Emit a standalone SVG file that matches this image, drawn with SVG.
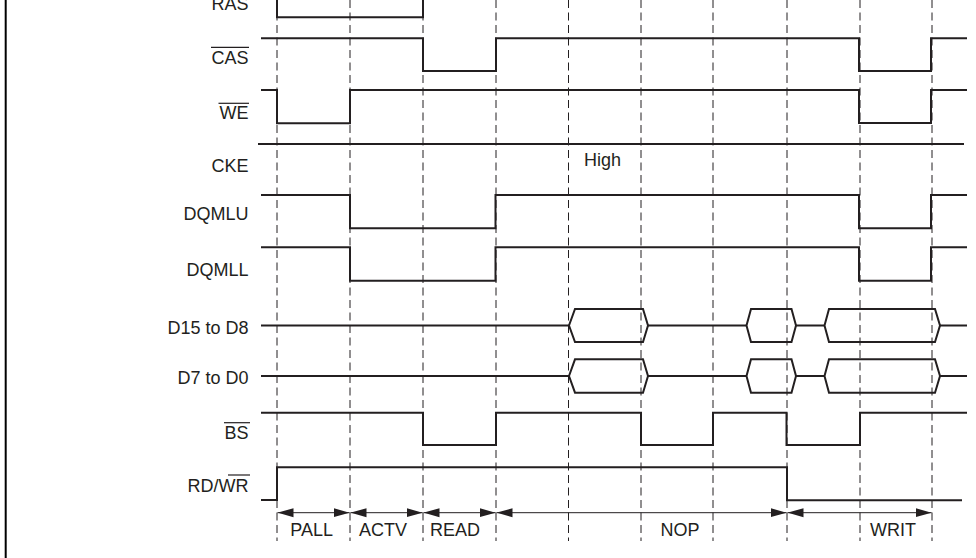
<svg xmlns="http://www.w3.org/2000/svg" width="976" height="558" viewBox="0 0 976 558">
<style>
.bg{fill:#fff}
.frame{stroke:#000;stroke-width:2;fill:none}
.grid{stroke:#231f20;stroke-width:1;stroke-dasharray:8 4.5;fill:none}
.sig{stroke:#231f20;stroke-width:2;fill:none;stroke-linejoin:miter}
.ov{stroke:#231f20;stroke-width:1.2}
.lbl{font-family:"Liberation Sans",Arial,sans-serif;font-size:18px;fill:#231f20;text-anchor:end}
.st{font-family:"Liberation Sans",Arial,sans-serif;font-size:18px;fill:#231f20;text-anchor:middle}
.dim{stroke:#231f20;stroke-width:1;fill:none;marker-start:url(#ah);marker-end:url(#ah)}
</style>
<defs>
<marker id="ah" viewBox="0 0 16 10" refX="16" refY="5" markerWidth="16" markerHeight="10" markerUnits="userSpaceOnUse" orient="auto-start-reverse">
<path d="M0,0.5 L16,5 L0,9.5 Z" fill="#231f20"/>
</marker>
</defs>
<rect class="bg" x="0" y="0" width="976" height="558"/>
<line class="frame" x1="5.7" y1="0" x2="5.7" y2="558"/>
<g id="gridlines">
<line class="grid" x1="277" y1="0" x2="277" y2="541"/>
<line class="grid" x1="350" y1="0" x2="350" y2="541"/>
<line class="grid" x1="423" y1="0" x2="423" y2="541"/>
<line class="grid" x1="496" y1="0" x2="496" y2="541"/>
<line class="grid" x1="568.5" y1="0" x2="568.5" y2="541"/>
<line class="grid" x1="641" y1="0" x2="641" y2="541"/>
<line class="grid" x1="713" y1="0" x2="713" y2="541"/>
<line class="grid" x1="787" y1="0" x2="787" y2="541"/>
<line class="grid" x1="860" y1="0" x2="860" y2="541"/>
<line class="grid" x1="932" y1="0" x2="932" y2="541"/>
</g>
<g id="RAS">
<text class="lbl" x="248.5" y="10">RAS</text>
<line class="ov" x1="211" y1="-6" x2="249" y2="-6"/>
<path class="sig" d="M261,-14 H277 V17.3 H423 V-14 H967"/>
</g>
<g id="CAS">
<text class="lbl" x="248.5" y="63.5">CAS</text>
<line class="ov" x1="211" y1="47.3" x2="249" y2="47.3"/>
<path class="sig" d="M261,38.3 H423 V71 H496 V38.3 H859 V71 H931 V38.3 H967"/>
</g>
<g id="WE">
<text class="lbl" x="248.5" y="118.5">WE</text>
<line class="ov" x1="218.5" y1="103.3" x2="249" y2="103.3"/>
<path class="sig" d="M261,90 H277 V123.3 H350 V90 H859 V123 H931 V90 H967"/>
</g>
<g id="CKE">
<text class="lbl" x="248.5" y="171.5">CKE</text>
<path class="sig" d="M258,144 H964"/>
<text class="lbl" x="584" y="166" style="text-anchor:start">High</text>
</g>
<g id="DQMLU">
<text class="lbl" x="248.5" y="219.5">DQMLU</text>
<path class="sig" d="M261,195 H350 V228.3 H495.5 V195 H859 V228.3 H931 V195 H967"/>
</g>
<g id="DQMLL">
<text class="lbl" x="248.5" y="275.5">DQMLL</text>
<path class="sig" d="M261,247.3 H350 V280.7 H495.5 V247.3 H859 V280.7 H931 V247.3 H967"/>
</g>
<g id="D15toD8">
<text class="lbl" x="248.5" y="334">D15 to D8</text>
<path class="sig" d="M261,325.5 H569 M648,325.5 H746.5 M796,325.5 H824.5 M940,325.5 H967"/>
<path class="sig" d="M569,325.5 L575,309 H643 L648,325.5 L643,342 H575 Z"/>
<path class="sig" d="M746.5,325.5 L751,309 H791.5 L796,325.5 L791.5,342 H751 Z"/>
<path class="sig" d="M824.5,325.5 L829,309 H935 L940,325.5 L935,342 H829 Z"/>
</g>
<g id="D7toD0">
<text class="lbl" x="248.5" y="384">D7 to D0</text>
<path class="sig" d="M261,376 H569 M648,376 H746.5 M796,376 H824.5 M940,376 H967"/>
<path class="sig" d="M569,376 L575,359.3 H643 L648,376 L643,392.7 H575 Z"/>
<path class="sig" d="M746.5,376 L751,359.3 H791.5 L796,376 L791.5,392.7 H751 Z"/>
<path class="sig" d="M824.5,376 L829,359.3 H935 L940,376 L935,392.7 H829 Z"/>
</g>
<g id="BS">
<text class="lbl" x="248.5" y="438.5">BS</text>
<line class="ov" x1="224" y1="422.7" x2="250" y2="422.7"/>
<path class="sig" d="M261,412.7 H423 V445 H496 V412.7 H641 V445 H713 V412.7 H786.5 V445 H860 V412.7 H967"/>
</g>
<g id="RDWR">
<text class="lbl" x="248.5" y="491.5">RD/WR</text>
<line class="ov" x1="228" y1="475" x2="250" y2="475"/>
<path class="sig" d="M261,500 H277 V467.3 H787 V500.3 H962"/>
</g>
<g id="connectors">
<line class="dim" x1="277.5" y1="512.7" x2="349.5" y2="512.7"/>
<line class="dim" x1="350.5" y1="512.7" x2="422.5" y2="512.7"/>
<line class="dim" x1="423.5" y1="512.7" x2="495.5" y2="512.7"/>
<line class="dim" x1="496.5" y1="512.7" x2="786.5" y2="512.7"/>
<line class="dim" x1="787.5" y1="512.7" x2="931.5" y2="512.7"/>
</g>
<g id="states">
<text class="st" x="311.7" y="536">PALL</text>
<text class="st" x="383" y="536">ACTV</text>
<text class="st" x="455" y="536">READ</text>
<text class="st" x="680" y="536">NOP</text>
<text class="st" x="893" y="536">WRIT</text>
</g>
</svg>
